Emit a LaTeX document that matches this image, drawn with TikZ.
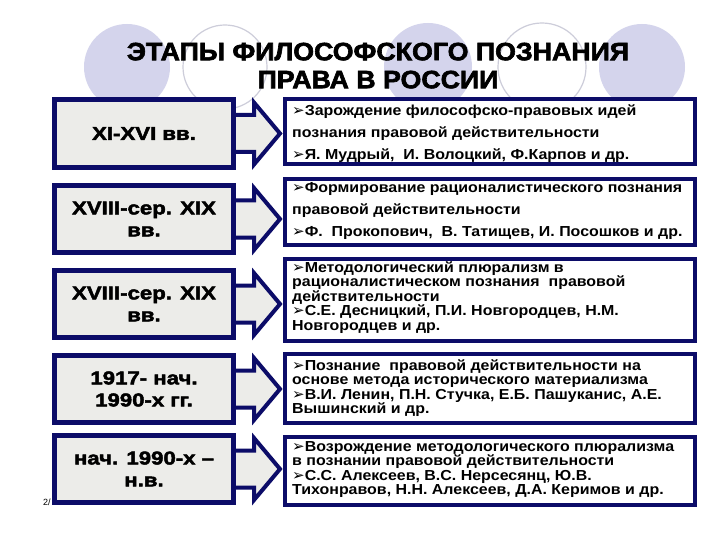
\documentclass[tikz,border=0pt]{standalone}
\usepackage{fontspec}
\setmainfont{Liberation Sans}
\newfontfamily\ttlfont[FakeStretch=1.07,FakeBold=2.5]{Liberation Sans}
\newfontfamily\lftfont[FakeStretch=1.2,FakeBold=2.5]{Liberation Sans}
\newfontfamily\rtfont[FakeStretch=1.1]{Liberation Sans}
\newfontfamily\dvfont{DejaVu Sans}
\usetikzlibrary{calc}
\definecolor{navy}{RGB}{12,12,104}
\definecolor{lav}{RGB}{212,212,236}
\definecolor{ring}{RGB}{205,205,218}
\definecolor{granite}{RGB}{236,236,233}
\newcommand{\bul}{{\dvfont\bfseries\fontsize{15}{13}\selectfont ➢}}
\begin{document}
\begin{tikzpicture}[x=1pt,y=-1pt,
  lbox/.style={draw=navy,line width=5pt,fill=granite,minimum width=179pt,inner sep=0pt,
    align=center,font=\lftfont\bfseries\fontsize{18.5}{22}\selectfont},
  rbox/.style={draw=navy,line width=4pt,fill=white,minimum width=410pt,inner sep=0pt},
  rtext/.style={anchor=north west,inner sep=0pt,align=left,font=\rtfont\bfseries\fontsize{14.5}{#1}\selectfont},
  barrow/.style={draw=navy,line width=4pt,fill=granite,line join=miter},
  ringc/.style={draw=ring,line width=1.2pt},
  lavc/.style={fill=lav}]
\useasboundingbox (0,0) rectangle (720,540);
\fill[white] (0,0) rectangle (720,540);
% background circles
\fill[lavc] (127,67) circle[radius=43pt];
\draw[ringc] (225,67) circle[radius=42pt];
\fill[lavc] (428,67) circle[radius=44pt];
\draw[ringc] (542,67) circle[radius=44pt];
\fill[lavc] (642,67) circle[radius=43pt];
% title
\node[anchor=north,inner sep=0pt,align=center,font=\ttlfont\bfseries\fontsize{25}{28}\selectfont] (title) at (378,40)
  {\rule{0pt}{20pt}ЭТАПЫ ФИЛОСОФСКОГО ПОЗНАНИЯ\\ПРАВА В РОССИИ};
% page number
\node[anchor=base west,inner sep=0pt,font=\fontsize{9}{9}\selectfont] (pg) at (43,505) {2/};
% boxes (positions)
\path (144,133.5) coordinate (cL1) (144,219) coordinate (cL2) (144,304) coordinate (cL3)
      (144,389) coordinate (cL4) (144,469) coordinate (cL5);
\path (490,131.5) coordinate (cR1) (490,212) coordinate (cR2) (490,300) coordinate (cR3)
      (490,388) coordinate (cR4) (490,471) coordinate (cR5);
\node[rbox,minimum height=65pt] (R1) at (cR1) {};
\node[rbox,minimum height=66pt] (R2) at (cR2) {};
\node[rbox,minimum height=82pt] (R3) at (cR3) {};
\node[rbox,minimum height=69pt] (R4) at (cR4) {};
\node[rbox,minimum height=68pt] (R5) at (cR5) {};
% arrows
\foreach \i in {1,...,5}{
  \draw[barrow] ($(cL\i)+(86,-18.5)$) -- ($(cL\i)+(110,-18.5)$) -- ($(cL\i)+(110,-31)$)
    -- ($(R\i.west |- cL\i)+(-3,0)$) -- ($(cL\i)+(110,31)$) -- ($(cL\i)+(110,18.5)$)
    -- ($(cL\i)+(86,18.5)$) -- cycle;
}
\node[lbox,minimum height=68pt] (L1) at (cL1) {XI-XVI вв.};
\node[lbox,minimum height=67pt] (L2) at (cL2) {XVIII-сер. XIX\\вв.};
\node[lbox,minimum height=67pt] (L3) at (cL3) {XVIII-сер. XIX\\вв.};
\node[lbox,minimum height=67pt] (L4) at (cL4) {1917- нач.\\1990-х гг.};
\node[lbox,minimum height=67pt] (L5) at (cL5) {нач. 1990-х –\\н.в.};
% right texts
\node[rtext=22] (T1) at (292,103) {\rule{0pt}{12.5pt}\bul Зарождение философско-правовых идей\\познания правовой действительности\\\bul Я. Мудрый,\ \ И. Волоцкий, Ф.Карпов и др.};
\node[rtext=22] (T2) at (292,180) {\rule{0pt}{12.5pt}\bul Формирование рационалистического познания\\правовой действительности\\\bul Ф.\ \ Прокопович,\ \ В. Татищев, И. Посошков и др.};
\node[rtext=14.5] (T3) at (292,259.5) {\rule{0pt}{12.5pt}\bul Методологический плюрализм в\\рационалистическом познания\ \ правовой\\действительности\\\bul С.Е. Десницкий, П.И. Новгородцев, Н.М.\\Новгородцев и др.};
\node[rtext=14.5] (T4) at (292,357.5) {\rule{0pt}{12.5pt}\bul Познание\ \ правовой действительности на\\основе метода исторического материализма\\\bul В.И. Ленин, П.Н. Стучка, Е.Б. Пашуканис, А.Е.\\Вышинский и др.};
\node[rtext=14.5] (T5) at (292,438.5) {\rule{0pt}{12.5pt}\bul Возрождение методологического плюрализма\\в познании правовой действительности\\\bul С.С. Алексеев, В.С. Нерсесянц, Ю.В.\\Тихонравов, Н.Н. Алексеев, Д.А. Керимов и др.};
\end{tikzpicture}
\end{document}
